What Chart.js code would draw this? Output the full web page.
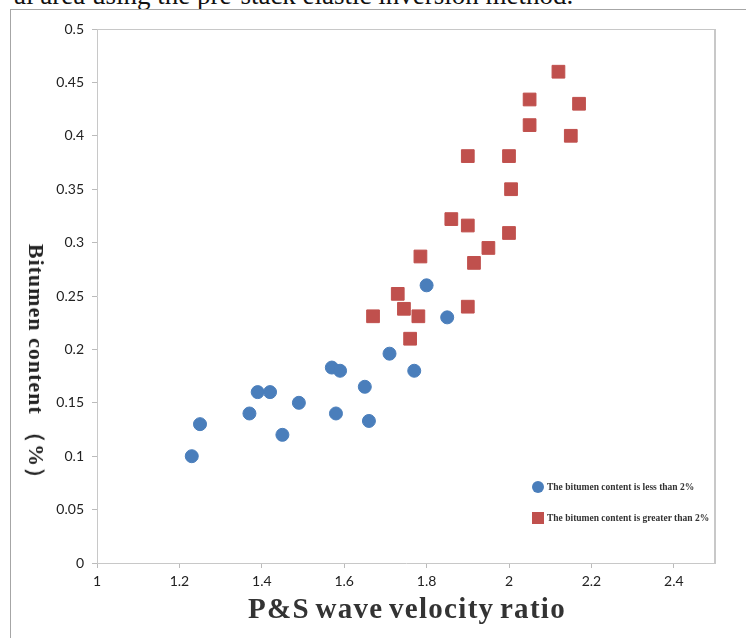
<!DOCTYPE html>
<html>
<head>
<meta charset="utf-8">
<script src="https://cdn.jsdelivr.net/npm/chart.js@4.4.1/dist/chart.umd.min.js"></script>
<style>
  body { margin: 0; background: #fff; }
  #wrap { position: relative; width: 746px; height: 638px; overflow: hidden; }
  #caption { position: absolute; left: 14px; top: -20px; font: 27px "Liberation Serif", serif; color: #111; white-space: nowrap; }
  #frame { position: absolute; left: 10px; top: 9px; width: 760px; height: 660px; border: 1px solid #a6a6a6; box-sizing: border-box; }
  #chart { position: absolute; left: 0; top: 0; }
  #ytitle { position: absolute; left: 36px; top: 367px; transform: translate(-50%, -50%) rotate(90deg); font: bold 22px "Liberation Serif", serif; letter-spacing: 1px; color: #222; white-space: nowrap; }
  #xtitle { position: absolute; left: 407px; top: 608px; transform: translate(-50%, -50%); font: bold 29px "Liberation Serif", serif; letter-spacing: 1.3px; word-spacing: -3px; color: #333; white-space: nowrap; }
  #legend { position: absolute; left: 532px; top: 478px; font: bold 9.5px "Liberation Serif", serif; color: #333; }
  #legend div { display: flex; align-items: center; height: 18px; margin-bottom: 13px; }
  #legend span.m { display: inline-block; width: 12px; height: 12px; margin-right: 3px; }
</style>
</head>
<body>
<div id="wrap">
  <div id="caption">al area using the pre-stack elastic inversion method.</div>
  <div id="frame"></div>
  <canvas id="chart" width="746" height="638"></canvas>
  <div id="ytitle">Bitumen content （%）</div>
  <div id="xtitle">P&amp;S wave velocity ratio</div>
  <div id="legend"></div>
</div>
<script>
var lowLabel = 'The bitumen content is less than 2%';
var highLabel = 'The bitumen content is greater than 2%';

var lowX = [1.23, 1.25, 1.37, 1.39, 1.42, 1.45, 1.49, 1.57, 1.59, 1.58, 1.65, 1.66, 1.71, 1.77, 1.80, 1.85];
var lowY = [0.100, 0.130, 0.140, 0.160, 0.160, 0.120, 0.150, 0.183, 0.180, 0.140, 0.165, 0.133, 0.196, 0.180, 0.260, 0.230];

var highX = [1.67, 1.73, 1.745, 1.78, 1.76, 1.785, 1.86, 1.90, 1.90, 1.90, 1.915, 1.95, 2.00, 2.005, 2.00, 2.05, 2.05, 2.12, 2.17, 2.15];
var highY = [0.231, 0.252, 0.238, 0.231, 0.210, 0.287, 0.322, 0.381, 0.316, 0.240, 0.281, 0.295, 0.381, 0.350, 0.309, 0.434, 0.410, 0.460, 0.430, 0.400];

var xTicks = [1, 1.2, 1.4, 1.6, 1.8, 2, 2.2, 2.4];
var yTicks = [0, 0.05, 0.1, 0.15, 0.2, 0.25, 0.3, 0.35, 0.4, 0.45, 0.5];

var blue = '#4a7ebb';
var red = '#c0504d';

function toPoints(xs, ys) {
  return xs.map(function (x, i) { return { x: x, y: ys[i] }; });
}

// top and right edges of the plot box
var boxPlugin = {
  id: 'box',
  afterDraw: function (chart) {
    var a = chart.chartArea, c = chart.ctx;
    c.save();
    c.strokeStyle = '#c8c8c8';
    c.lineWidth = 1;
    c.beginPath();
    c.moveTo(a.left, a.top + 0.5);
    c.lineTo(a.right, a.top + 0.5);
    c.stroke();
    c.lineWidth = 2;
    c.beginPath();
    c.moveTo(a.right, a.top);
    c.lineTo(a.right, a.bottom);
    c.stroke();
    c.restore();
  }
};

var ctx = document.getElementById('chart').getContext('2d');
new Chart(ctx, {
  type: 'scatter',
  data: {
    datasets: [
      { label: lowLabel, data: toPoints(lowX, lowY), pointStyle: 'circle', pointRadius: 6.5, backgroundColor: blue, borderColor: blue, pointHoverRadius: 6.5 },
      { label: highLabel, data: toPoints(highX, highY), pointStyle: 'rect', pointRadius: 9, backgroundColor: red, borderColor: red, pointHoverRadius: 9 }
    ]
  },
  options: {
    responsive: false,
    animation: false,
    layout: { padding: { top: 29, right: 31, left: 0, bottom: 0 } },
    plugins: { legend: { display: false }, tooltip: { enabled: false } },
    scales: {
      x: {
        type: 'linear', min: 1, max: 2.5,
        afterBuildTicks: function (s) { s.ticks = xTicks.map(function (v) { return { value: v }; }); },
        afterFit: function (s) { s.height = 75; },
        ticks: { color: '#222', font: { family: 'Lato', size: 14 }, padding: 5, callback: function (v) { return String(v); } },
        grid: { display: true, drawOnChartArea: false, color: '#bbb', tickLength: 5 },
        border: { color: '#c8c8c8' }
      },
      y: {
        type: 'linear', min: 0, max: 0.5,
        afterBuildTicks: function (s) { s.ticks = yTicks.map(function (v) { return { value: v }; }); },
        afterFit: function (s) { s.width = 97; },
        ticks: { color: '#222', font: { family: 'Lato', size: 14 }, padding: 8, callback: function (v) { return String(v); } },
        grid: { display: true, drawOnChartArea: false, color: '#bbb', tickLength: 5 },
        border: { color: '#c8c8c8' }
      }
    }
  },
  plugins: [boxPlugin]
});

var legend = document.getElementById('legend');
[[lowLabel, blue, '50%'], [highLabel, red, '0']].forEach(function (it) {
  var row = document.createElement('div');
  var m = document.createElement('span');
  m.className = 'm';
  m.style.background = it[1];
  m.style.borderRadius = it[2];
  row.appendChild(m);
  row.appendChild(document.createTextNode(it[0]));
  legend.appendChild(row);
});
</script>
</body>
</html>
